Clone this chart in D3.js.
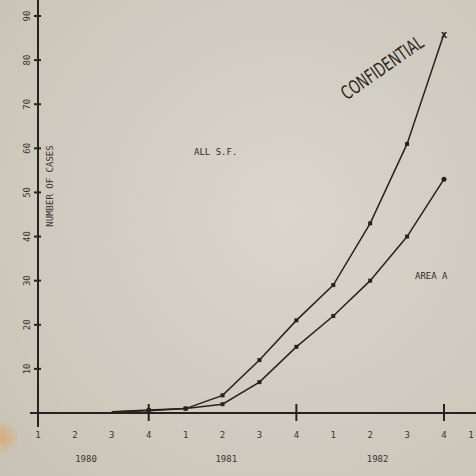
<!DOCTYPE html>
<html>
<head>
<meta charset="utf-8">
<script src="https://cdn.jsdelivr.net/npm/d3@7"></script>
<style>
  html, body { margin: 0; padding: 0; background: #d5d0c5; }
  svg { display: block; }
</style>
</head>
<body>
<svg id="chart"></svg>
<script>
// quarters 1980 Q1 .. 1983 Q1
var quarterLabels = ["1", "2", "3", "4", "1", "2", "3", "4", "1", "2", "3", "4", "1"]
var years = ["1980", "1981", "1982"]
var yearAt = [1.3, 5.1, 9.2]   // quarter index under which each year is typed
var yTicks = [10, 20, 30, 40, 50, 60, 70, 80, 90]

// number of cases, starting at 1980 Q3 (index 2)
var allSF = [0.3, 0.7, 1, 4, 12, 21, 29, 43, 61, 86]
var areaA = [0.2, 0.5, 1, 2, 7, 15, 22, 30, 40, 53]
var firstIndex = 2

var width = 476, height = 476
var ink = "#26221f"

var svg = d3.select("#chart")
    .attr("width", width)
    .attr("height", height)
    .attr("font-family", "'DejaVu Sans Mono', monospace")

// paper
var defs = svg.append("defs")
var grad = defs.append("radialGradient").attr("id", "paper")
    .attr("cx", "60%").attr("cy", "45%").attr("r", "80%")
grad.append("stop").attr("offset", "0%").attr("stop-color", "#dad6cc")
grad.append("stop").attr("offset", "100%").attr("stop-color", "#c9c3b7")
svg.append("rect").attr("width", width).attr("height", height).attr("fill", "url(#paper)")

var stain = defs.append("radialGradient").attr("id", "stain")
stain.append("stop").attr("offset", "0%").attr("stop-color", "#d9a868").attr("stop-opacity", 0.8)
stain.append("stop").attr("offset", "100%").attr("stop-color", "#d9a868").attr("stop-opacity", 0)
svg.append("circle").attr("cx", 2).attr("cy", 437).attr("r", 18).attr("fill", "url(#stain)")

var x = d3.scaleLinear().domain([0, 11]).range([38, 444])
var y = d3.scaleLinear().domain([0, 90]).range([413, 16])

// y axis
svg.append("line")
    .attr("x1", 38).attr("x2", 38)
    .attr("y1", 0).attr("y2", 427)
    .attr("stroke", ink).attr("stroke-width", 2)

svg.selectAll(".ytick").data(yTicks).enter().append("line")
    .attr("x1", 34).attr("x2", 41)
    .attr("y1", d => y(d)).attr("y2", d => y(d))
    .attr("stroke", ink).attr("stroke-width", 2)

svg.selectAll(".ylab").data(yTicks).enter().append("text")
    .attr("transform", d => "translate(30," + y(d) + ") rotate(-90)")
    .attr("text-anchor", "middle")
    .attr("font-size", 9)
    .attr("fill", "#3a3531")
    .text(d => d)

svg.append("text")
    .attr("transform", "translate(53,186) rotate(-90)")
    .attr("text-anchor", "middle")
    .attr("font-size", 9)
    .attr("fill", "#3a3531")
    .text("NUMBER OF CASES")

// x axis
svg.append("line")
    .attr("x1", 30).attr("x2", width)
    .attr("y1", y(0)).attr("y2", y(0))
    .attr("stroke", ink).attr("stroke-width", 2.2)

svg.selectAll(".xtick").data([3, 7, 11]).enter().append("line")
    .attr("x1", d => x(d)).attr("x2", d => x(d))
    .attr("y1", y(0) - 9).attr("y2", y(0) + 8)
    .attr("stroke", ink).attr("stroke-width", 2)

svg.selectAll(".xlab").data(quarterLabels).enter().append("text")
    .attr("x", (d, i) => Math.min(x(i), width - 5))
    .attr("y", 438)
    .attr("text-anchor", "middle")
    .attr("font-size", 9)
    .attr("fill", "#3a3531")
    .text(d => d)

svg.selectAll(".year").data(years).enter().append("text")
    .attr("x", (d, i) => x(yearAt[i]))
    .attr("y", 462)
    .attr("text-anchor", "middle")
    .attr("font-size", 9)
    .attr("fill", "#3a3531")
    .text(d => d)

// series lines
var line = d3.line()
    .x((d, i) => x(i + firstIndex))
    .y(d => y(d))

;[allSF, areaA].forEach(function (series) {
    svg.append("path")
        .datum(series)
        .attr("fill", "none")
        .attr("stroke", ink)
        .attr("stroke-width", 1.5)
        .attr("d", line)

    svg.selectAll(null).data(series.slice(1, series.length - 1)).enter().append("rect")
        .attr("x", (d, i) => x(i + 1 + firstIndex) - 2)
        .attr("y", d => y(d) - 2)
        .attr("width", 4).attr("height", 4)
        .attr("fill", ink)
})

// end markers
var lastX = x(allSF.length - 1 + firstIndex)
svg.append("text")
    .attr("x", lastX).attr("y", y(allSF[allSF.length - 1]) + 4)
    .attr("text-anchor", "middle")
    .attr("font-size", 11)
    .attr("font-weight", "bold")
    .attr("fill", ink)
    .text("x")
svg.append("circle")
    .attr("cx", x(areaA.length - 1 + firstIndex))
    .attr("cy", y(areaA[areaA.length - 1]))
    .attr("r", 2.5)
    .attr("fill", ink)

// labels
svg.append("text")
    .attr("x", 194).attr("y", 155)
    .attr("font-size", 9)
    .attr("fill", "#2e2a27")
    .text("ALL S.F.")

svg.append("text")
    .attr("x", 415).attr("y", 279)
    .attr("font-size", 9)
    .attr("fill", "#2e2a27")
    .text("AREA A")

svg.append("text")
    .attr("transform", "translate(386,73) rotate(-35) scale(0.68,1)")
    .attr("text-anchor", "middle")
    .attr("font-family", "'DejaVu Sans', sans-serif")
    .attr("font-size", 19)
    .attr("fill", "#2a2623")
    .text("CONFIDENTIAL")
</script>
</body>
</html>
